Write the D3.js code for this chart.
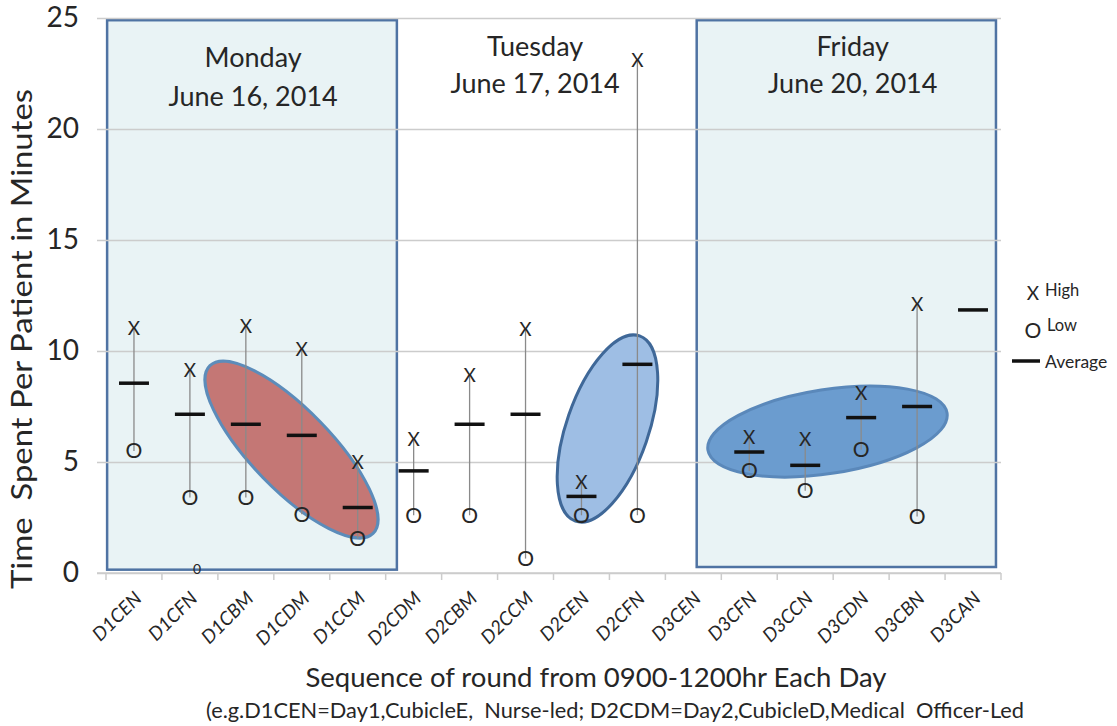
<!DOCTYPE html>
<html>
<head>
<meta charset="utf-8">
<script src="https://cdn.jsdelivr.net/npm/d3@7"></script>
<style>
  body { margin: 0; background: #fff; }
  text { font-family: Lato, "Open Sans", sans-serif; fill: #262626; }
</style>
</head>
<body>
<script>
// rounds on the x axis
var categories = ["D1CEN", "D1CFN", "D1CBM", "D1CDM", "D1CCM",
                  "D2CDM", "D2CBM", "D2CCM", "D2CEN", "D2CFN",
                  "D3CEN", "D3CFN", "D3CCN", "D3CDN", "D3CBN", "D3CAN"];

// minutes per patient
var highs    = [11.05, 9.15, 11.1, 10.1, 5.0, 6.05, 8.9, 11.0, 4.1, 23.1, null, 6.1, 6.05, 8.1, 12.1, null];
var lows     = [5.5, 3.4, 3.4, 2.65, 1.55, 2.6, 2.6, 0.65, 2.6, 2.6, null, 4.6, 3.7, 5.55, 2.55, null];
var averages = [8.55, 7.15, 6.7, 6.2, 2.95, 4.6, 6.7, 7.15, 3.45, 9.4, null, 5.45, 4.85, 7.0, 7.5, 11.85];

var yTicks = [0, 5, 10, 15, 20, 25];

// heading position and box span are in round widths from the axis start
var days = [
  {name: "Monday",  date: "June 16, 2014", at: 2.63, from: 0.02,  to: 5.2,   boxed: true},
  {name: "Tuesday", date: "June 17, 2014", at: 7.67, from: null,  to: null,  boxed: false},
  {name: "Friday",  date: "June 20, 2014", at: 13.35, from: 10.56, to: 15.91, boxed: true}
];

var W = 1117, H = 726;
var mLeft = 106, mRight = 1001, mTop = 18, mBottom = 573;

var svg = d3.select("body").append("svg")
    .attr("width", W)
    .attr("height", H);

var x = d3.scaleBand()
    .domain(categories)
    .range([mLeft, mRight])
    .padding(0);

// fractional category position (0 = centre of first round)
function xAt(f) { return mLeft + (f + 0.5) * x.step(); }
function xEdge(f) { return mLeft + f * x.step(); }

var y = d3.scaleLinear()
    .domain([0, 25])
    .range([mBottom, mTop]);

// day boxes
days.filter(function(d) { return d.boxed; }).forEach(function(d, i) {
  svg.append("rect")
    .attr("x", xEdge(d.from))
    .attr("y", y(24.9))
    .attr("width", xEdge(d.to) - xEdge(d.from))
    .attr("height", y(i == 0 ? 0.15 : 0.27) - y(24.9))
    .attr("fill", "#e9f3f5")
    .attr("stroke", "#4f73a3")
    .attr("stroke-width", 2.5);
});

// gridlines + y axis
var yAxis = d3.axisLeft(y)
    .tickValues(yTicks)
    .tickSize(-(mRight - mLeft))
    .tickPadding(27)
    .tickFormat(d3.format("d"));

var gy = svg.append("g")
    .attr("transform", "translate(" + mLeft + ",0)")
    .call(yAxis);
gy.select(".domain").remove();
gy.selectAll(".tick line")
    .attr("x1", -9)
    .attr("stroke", "#cccccc")
    .attr("stroke-width", 1.5);
gy.selectAll(".tick text")
    .attr("font-size", 28)
    .attr("font-family", "Lato")
    .attr("fill", "#262626");

// x axis with ticks between rounds
svg.append("line")
    .attr("x1", mLeft - 9).attr("x2", mRight)
    .attr("y1", mBottom).attr("y2", mBottom)
    .attr("stroke", "#cccccc")
    .attr("stroke-width", 1.5);

svg.selectAll(".xtick")
    .data(d3.range(categories.length + 1))
  .enter().append("line")
    .attr("x1", function(i) { return xEdge(i); })
    .attr("x2", function(i) { return xEdge(i); })
    .attr("y1", mBottom)
    .attr("y2", mBottom + 7)
    .attr("stroke", "#cccccc")
    .attr("stroke-width", 1.5);

svg.selectAll(".xlabel")
    .data(categories)
  .enter().append("text")
    .attr("transform", function(d) {
      return "translate(" + (x(d) + x.bandwidth() / 2 + 4) + "," + (mBottom + 22) + ") rotate(-45)";
    })
    .attr("text-anchor", "end")
    .attr("dy", "0.35em")
    .attr("font-size", 19)
    .attr("font-style", "italic")
    .attr("fill", "#444")
    .text(function(d) { return d; });

// ellipses (centre in round / minutes)
var ellipses = [
  {cx: 2.816, cy: 5.56, rx: 117, ry: 40, angle: 45.8, fill: "#c47775", stroke: "#5c8cba"},
  {cx: 8.465, cy: 6.51, rx: 98, ry: 41, angle: -70.9, fill: "#9ebee4", stroke: "#3f6898"},
  {cx: 12.398, cy: 6.37, rx: 121, ry: 42, angle: -8.8, fill: "#6b9ccf", stroke: "#5a88ba"}
];

svg.selectAll(".oval")
    .data(ellipses)
  .enter().append("ellipse")
    .attr("transform", function(d) {
      return "translate(" + xAt(d.cx) + "," + y(d.cy) + ") rotate(" + d.angle + ")";
    })
    .attr("rx", function(d) { return d.rx; })
    .attr("ry", function(d) { return d.ry; })
    .attr("fill", function(d) { return d.fill; })
    .attr("stroke", function(d) { return d.stroke; })
    .attr("stroke-width", 3);

var rows = categories.map(function(c, i) {
  return {cat: c, high: highs[i], low: lows[i], avg: averages[i]};
});

// high-low lines
svg.selectAll(".range")
    .data(rows.filter(function(d) { return d.high != null; }))
  .enter().append("line")
    .attr("x1", function(d) { return x(d.cat) + x.bandwidth() / 2; })
    .attr("x2", function(d) { return x(d.cat) + x.bandwidth() / 2; })
    .attr("y1", function(d) { return y(d.high); })
    .attr("y2", function(d) { return y(d.low); })
    .attr("stroke", "#8a8a8a")
    .attr("stroke-width", 1.3);

// averages
svg.selectAll(".avg")
    .data(rows.filter(function(d) { return d.avg != null; }))
  .enter().append("line")
    .attr("x1", function(d) { return x(d.cat) + x.bandwidth() / 2 - 15; })
    .attr("x2", function(d) { return x(d.cat) + x.bandwidth() / 2 + 15; })
    .attr("y1", function(d) { return y(d.avg); })
    .attr("y2", function(d) { return y(d.avg); })
    .attr("stroke", "#111")
    .attr("stroke-width", 3.5);

// high / low markers
svg.selectAll(".hi")
    .data(rows.filter(function(d) { return d.high != null; }))
  .enter().append("text")
    .attr("x", function(d) { return x(d.cat) + x.bandwidth() / 2; })
    .attr("y", function(d) { return y(d.high); })
    .attr("dy", "0.36em")
    .attr("text-anchor", "middle")
    .attr("font-size", 19)
    .text("X");

svg.selectAll(".lo")
    .data(rows.filter(function(d) { return d.low != null; }))
  .enter().append("text")
    .attr("x", function(d) { return x(d.cat) + x.bandwidth() / 2; })
    .attr("y", function(d) { return y(d.low); })
    .attr("dy", "0.36em")
    .attr("text-anchor", "middle")
    .attr("font-size", 21)
    .text("O");

// stray zero near the axis
svg.append("text")
    .attr("x", xAt(1.13)).attr("y", y(-0.05))
    .attr("text-anchor", "middle")
    .attr("font-size", 14)
    .attr("fill", "#555")
    .text("0");

// day headings
var dayText = svg.selectAll(".day")
    .data(days)
  .enter().append("text")
    .attr("text-anchor", "middle")
    .attr("font-size", 27);
dayText.append("tspan")
    .attr("x", function(d) { return xEdge(d.at); })
    .attr("y", function(d) { return d.name == "Monday" ? 67 : 56; })
    .text(function(d) { return d.name; });
dayText.append("tspan")
    .attr("x", function(d) { return xEdge(d.at); })
    .attr("y", function(d) { return d.name == "Monday" ? 106 : 93; })
    .text(function(d) { return d.date; });

// legend
var lg = svg.append("g").attr("transform", "translate(1012,0)");
lg.append("text").attr("x", 21).attr("y", 300).attr("text-anchor", "middle").attr("font-size", 19).text("X");
lg.append("text").attr("x", 33).attr("y", 296).attr("font-size", 16.5).text("High");
lg.append("text").attr("x", 21).attr("y", 338).attr("text-anchor", "middle").attr("font-size", 21).text("O");
lg.append("text").attr("x", 35).attr("y", 331).attr("font-size", 16.5).text("Low");
lg.append("line").attr("x1", 0).attr("x2", 28).attr("y1", 361).attr("y2", 361)
    .attr("stroke", "#111").attr("stroke-width", 3.5);
lg.append("text").attr("x", 33).attr("y", 368).attr("font-size", 17.5).text("Average");

// axis titles
svg.append("text")
    .attr("transform", "translate(32," + 339 + ") rotate(-90)")
    .attr("text-anchor", "middle")
    .attr("font-size", 28)
    .attr("textLength", 500)
    .attr("lengthAdjust", "spacingAndGlyphs")
    .attr("xml:space", "preserve")
    .text("Time  Spent Per Patient in Minutes");

svg.append("text")
    .attr("x", 596).attr("y", 687)
    .attr("text-anchor", "middle")
    .attr("font-size", 27.5)
    .text("Sequence of round from 0900-1200hr Each Day");

svg.append("text")
    .attr("x", 615).attr("y", 718)
    .attr("text-anchor", "middle")
    .attr("font-size", 21)
    .attr("textLength", 818)
    .attr("lengthAdjust", "spacingAndGlyphs")
    .attr("xml:space", "preserve")
    .text("(e.g.D1CEN=Day1,CubicleE,  Nurse-led; D2CDM=Day2,CubicleD,Medical  Officer-Led");
</script>
</body>
</html>
